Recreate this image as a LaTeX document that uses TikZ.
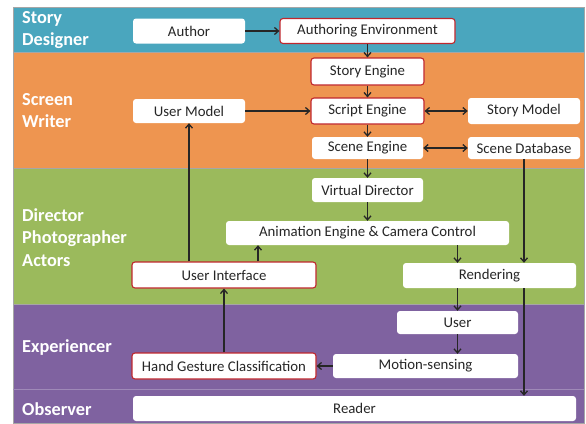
\documentclass[tikz,border=0pt]{standalone}
\usepackage{fontspec}
\setmainfont{Carlito}
\usetikzlibrary{arrows.meta}

\definecolor{bandteal}{HTML}{4AA6BE}
\definecolor{bandorange}{HTML}{EE9550}
\definecolor{bandgreen}{HTML}{9BBA5C}
\definecolor{bandpurple}{HTML}{7F62A0}
\definecolor{boxred}{HTML}{C0272D}

\tikzset{
  box/.style={fill=white, rounded corners=3pt, minimum height=25pt, inner sep=0pt,
    font=\fontsize{14.8}{16}\selectfont, text=black!85},
  redbox/.style={box, draw=boxred, line width=1.1pt},
  arr/.style={-{Straight Barb[length=4pt,width=7pt]}, line width=1.3pt, black!85},
  biarr/.style={{Straight Barb[length=4pt,width=7pt]}-{Straight Barb[length=4pt,width=7pt]},
    line width=1.3pt, black!85},
  band/.style={draw=black!35, line width=0.4pt},
  role/.style={anchor=west, align=left, text=white, inner sep=0pt,
    font=\bfseries\fontsize{18.3}{22.5}\selectfont}
}

\begin{document}
\begin{tikzpicture}[x=1pt, y=-1pt]
    \useasboundingbox (0,0) rectangle (586,423);

    % bands
    \filldraw[band, fill=bandteal] (13,7) rectangle (584,52);
    \filldraw[band, fill=bandorange] (13,52) rectangle (584,168);
    \filldraw[band, fill=bandgreen] (13,168) rectangle (584,304);
    \filldraw[band, fill=bandpurple] (13,304) rectangle (584,423);
    \draw[bandpurple!75!white, line width=0.6pt] (13,389) -- (584,389);

    \node[role] (designer) at (22,30) {Story\\Designer};
    \node[role] (writer) at (22,110.5) {Screen\\Writer};
    \node[role] (director) at (22,237.5) {Director\\Photographer\\Actors};
    \node[role] (experiencer) at (22,348) {Experiencer};
    \node[role] (observer) at (22,409) {Observer};

    % boxes
    \node[box, minimum width=112pt] (author) at (189,31) {Author};
    \node[redbox, minimum width=175pt] (authenv) at (367.5,31) {Authoring Environment};
    \node[redbox, minimum width=113pt, minimum height=27pt] (storyeng) at (367.5,71.5) {Story Engine};
    \node[redbox, minimum width=113pt, minimum height=26pt] (scripteng) at (367.5,111) {Script Engine};
    \node[box, minimum width=112pt, minimum height=26pt] (storymodel) at (524,111) {Story Model};
    \node[box, minimum width=112pt, minimum height=24pt] (umodel) at (189,111) {User Model};
    \node[box, minimum width=111pt, minimum height=22pt] (sceneeng) at (367.5,148) {Scene Engine};
    \node[box, minimum width=112pt, minimum height=22pt] (scenedb) at (524,148) {Scene Database};
    \node[box, minimum width=111pt, minimum height=24pt] (vdirector) at (367.5,190) {Virtual Director};
    \node[box, minimum width=283pt, minimum height=24pt] (anim) at (367.5,233) {Animation Engine \& Camera Control};
    \node[redbox, minimum width=184pt, minimum height=26pt] (ui) at (224,275) {User Interface};
    \node[box, minimum width=173pt, minimum height=25pt] (rend) at (489.5,275.5) {Rendering};
    \node[box, minimum width=121pt, minimum height=23pt] (user) at (457.5,322.5) {User};
    \node[box, minimum width=185pt, minimum height=24pt] (motion) at (425.5,366) {Motion-sensing};
    \node[redbox, minimum width=184pt, minimum height=26pt] (hand) at (224,366) {Hand Gesture Classification};
    \node[box, minimum width=443pt, minimum height=25pt] (reader) at (354.5,408.5) {Reader};

    % connectors
    \draw[arr] (author) -- (authenv);
    \draw[arr] (authenv) -- (storyeng);
    \draw[arr] (storyeng) -- (scripteng);
    \draw[arr] (umodel) -- (scripteng);
    \draw[biarr] (scripteng) -- (storymodel);
    \draw[arr] (scripteng) -- (sceneeng);
    \draw[biarr] (sceneeng) -- (scenedb);
    \draw[arr] (sceneeng) -- (vdirector);
    \draw[arr] (vdirector) -- (anim);
    \draw[arr] (anim.south -| user) -- (rend.north -| user);
    \draw[arr] (scenedb.south) -- (scenedb.south |- rend.north);
    \draw[arr] (rend.south -| scenedb) -- (reader.north -| scenedb);
    \draw[arr] (rend.south -| user) -- (user.north);
    \draw[arr] (user) -- (motion.north -| user);
    \draw[arr] (motion) -- (hand);
    \draw[arr] (hand) -- (ui);
    \draw[arr] ([xshift=34pt]ui.north) -- ([xshift=34pt]ui.north |- anim.south);
    \draw[arr] (ui.north -| umodel) -- (umodel.south);
\end{tikzpicture}
\end{document}
